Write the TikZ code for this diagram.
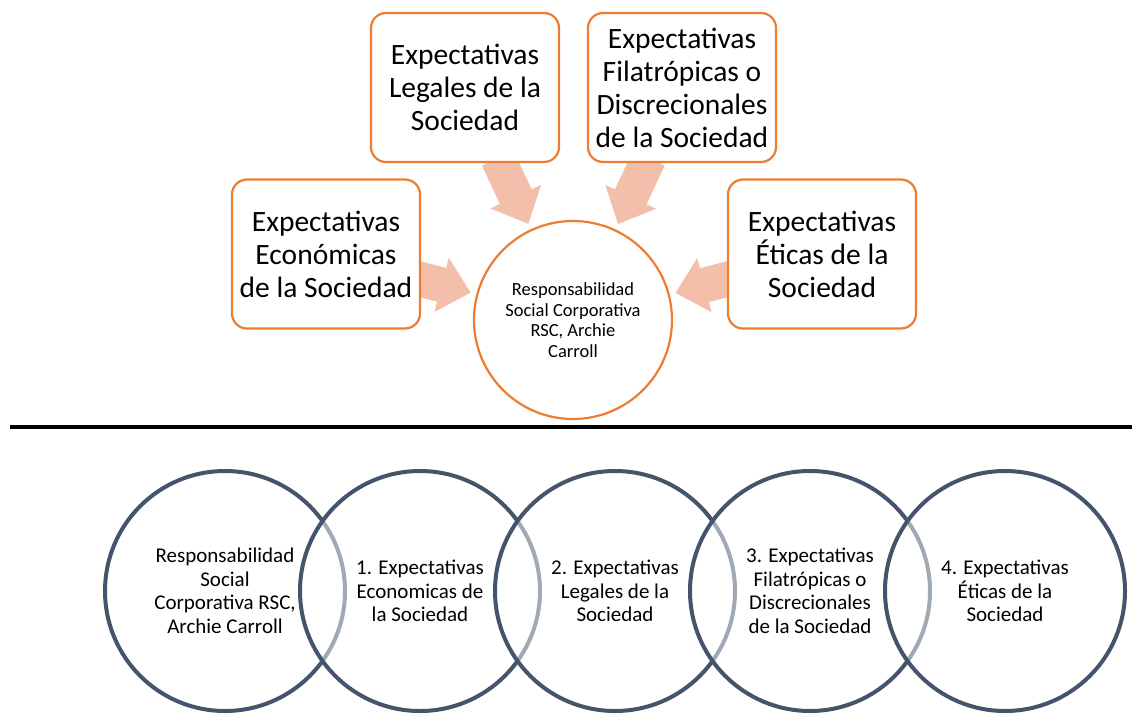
\documentclass[tikz,border=0pt]{standalone}
\usepackage{fontspec}
\setmainfont{Carlito}
\usetikzlibrary{calc}
\definecolor{orng}{HTML}{ED7D31}
\definecolor{arrowc}{HTML}{F4BFAA}
\definecolor{slate}{HTML}{44546A}
\newcommand{\blkarrow}[2]{%
  \coordinate (H) at ($(#2)!30pt!(#1)$);
  \fill[blk] ($(#1)!17.5pt!90:(#2)$) -- ($(H)!17.5pt!90:(#2)$) -- ($(H)!28pt!90:(#2)$)
    -- (#2) -- ($(H)!28pt!-90:(#2)$) -- ($(H)!17.5pt!-90:(#2)$) -- ($(#1)!17.5pt!-90:(#2)$) -- cycle;
}
\begin{document}
\begin{tikzpicture}[x=1pt,y=-1pt,
  box/.style={draw=orng, line width=2.2pt, rounded corners=15pt, fill=white,
    minimum width=188pt, minimum height=149pt, align=center,
    font=\fontsize{29.5}{33}\selectfont, inner sep=0pt},
  hub/.style={circle, draw=orng, line width=2.2pt, fill=white, minimum size=198pt,
    inner sep=0pt, align=center, font=\fontsize{18.5}{20.7}\selectfont},
  ring/.style={circle, draw=slate, line width=4pt, fill=white, fill opacity=0.5,
    minimum size=240pt, inner sep=0pt},
  ringtext/.style={align=center, font=\fontsize{21}{23.5}\selectfont, inner sep=0pt},
  blk/.style={fill=arrowc}]
\useasboundingbox (0,0) rectangle (1132,715);
% node centres for arrow geometry
\coordinate (ceco) at (326,254);
\coordinate (cleg) at (465,87.5);
\coordinate (cfil) at (682,87.5);
\coordinate (ceti) at (822,254);
\coordinate (crsc) at (573,320);
% arrows
\coordinate (s1) at ($(ceco)!92pt!(crsc)$);
\coordinate (e1) at ($(crsc)!106pt!(ceco)$);
\coordinate (s2) at ($(cleg)!78pt!(crsc)$);
\coordinate (e2) at ($(crsc)!106pt!(cleg)$);
\coordinate (s3) at ($(cfil)!78pt!(crsc)$);
\coordinate (e3) at ($(crsc)!106pt!(cfil)$);
\coordinate (s4) at ($(ceti)!92pt!(crsc)$);
\coordinate (e4) at ($(crsc)!106pt!(ceti)$);
\blkarrow{s1}{e1}
\blkarrow{s2}{e2}
\blkarrow{s3}{e3}
\blkarrow{s4}{e4}
% boxes
\node[box] (eco) at (ceco) {Expectativas\\Económicas\\de la Sociedad};
\node[box] (leg) at (cleg) {Expectativas\\Legales de la\\Sociedad};
\node[box] (fil) at (cfil) {Expectativas\\Filatrópicas o\\Discrecionales\\de la Sociedad};
\node[box] (eti) at (ceti) {Expectativas\\Éticas de la\\Sociedad};
\node[hub] (rsc) at (crsc) {Responsabilidad\\Social Corporativa\\RSC, Archie\\Carroll};
% separator
\coordinate (l0) at (10,427);
\coordinate (l1) at (1132,427);
\draw[line width=4pt] (l0) -- (l1);
% rings
\node[ring] (r1) at (225,591) {};
\node[ring] (r2) at (420,591) {};
\node[ring] (r3) at (615,591) {};
\node[ring] (r4) at (810,591) {};
\node[ring] (r5) at (1005,591) {};
\node[ringtext] (t1) at (r1.center) {Responsabilidad\\Social\\Corporativa RSC,\\Archie Carroll};
\node[ringtext] (t2) at (r2.center) {1. Expectativas\\Economicas de\\la Sociedad};
\node[ringtext] (t3) at (r3.center) {2. Expectativas\\Legales de la\\Sociedad};
\node[ringtext] (t4) at (r4.center) {3. Expectativas\\Filatrópicas o\\Discrecionales\\de la Sociedad};
\node[ringtext] (t5) at (r5.center) {4. Expectativas\\Éticas de la\\Sociedad};
\end{tikzpicture}
\end{document}
